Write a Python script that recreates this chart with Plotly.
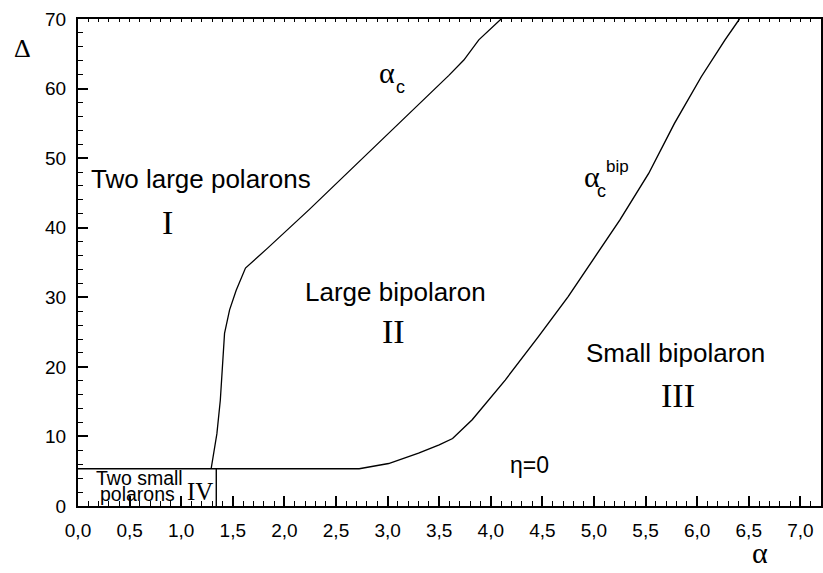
import plotly.graph_objects as go

# ---- data ----
alpha_c_x = [1.29, 1.346, 1.379, 1.398, 1.42, 1.469, 1.533, 1.623, 1.84, 2.24, 2.725, 3.10, 3.594, 3.739, 3.884, 4.10]
alpha_c_y = [5.35, 10.4, 15.2, 20.0, 24.8, 28.2, 31.0, 34.2, 37.1, 42.6, 49.5, 54.9, 61.9, 64.1, 67.0, 70.0]

bip_x = [0.0, 2.725, 3.01, 3.30, 3.50, 3.63, 3.82, 4.14, 4.46, 4.75, 5.0, 5.25, 5.53, 5.78, 6.04, 6.27, 6.41]
bip_y = [5.35, 5.35, 6.1, 7.6, 8.8, 9.7, 12.4, 18.1, 24.3, 30.1, 35.6, 41.1, 47.8, 55.0, 61.7, 67.0, 70.0]

iv_x = [1.34, 1.34]
iv_y = [0.0, 5.35]

x_tick_vals = [0.0, 0.5, 1.0, 1.5, 2.0, 2.5, 3.0, 3.5, 4.0, 4.5, 5.0, 5.5, 6.0, 6.5, 7.0]
x_tick_labels = ["0,0", "0,5", "1,0", "1,5", "2,0", "2,5", "3,0", "3,5", "4,0", "4,5",
                 "5,0", "5,5", "6,0", "6,5", "7,0"]
y_tick_vals = [0, 10, 20, 30, 40, 50, 60, 70]
y_tick_labels = ["0", "10", "20", "30", "40", "50", "60", "70"]

SANS = "Liberation Sans, Arial, sans-serif"
SERIF = "Liberation Serif, Times New Roman, serif"

fig = go.Figure()
fig.add_trace(go.Scatter(x=alpha_c_x, y=alpha_c_y, mode="lines",
                         line=dict(color="black", width=1.3), showlegend=False))
fig.add_trace(go.Scatter(x=bip_x, y=bip_y, mode="lines",
                         line=dict(color="black", width=1.4), showlegend=False))
fig.add_trace(go.Scatter(x=iv_x, y=iv_y, mode="lines",
                         line=dict(color="black", width=1.4), showlegend=False))
# invisible trace carrying the top tick axis
fig.add_trace(go.Scatter(x=[], y=[], xaxis="x2", yaxis="y", mode="lines",
                         showlegend=False, hoverinfo="skip"))

def ann(x, y, text, size, family, xref="x", yref="y"):
    fig.add_annotation(x=x, y=y, xref=xref, yref=yref, text=text, showarrow=False,
                       font=dict(size=size, family=family, color="black"),
                       xanchor="center", yanchor="middle")

ann(1.191, 47.05, "Two large polarons", 26, SANS)
ann(0.870, 40.7, "I", 34, SERIF)
ann(3.08, 30.76, "Large bipolaron", 26, SANS)
ann(3.058, 25.05, "II", 34, SERIF)
ann(5.787, 22.0, "Small bipolaron", 26, SANS)
ann(5.817, 15.9, "III", 34, SERIF)
ann(4.377, 5.85, "η=0", 23, SANS)
ann(0.595, 4.02, "Two small", 19.5, SANS)
ann(0.575, 1.75, "polarons", 19.5, SANS)
ann(1.179, 2.06, "IV", 25, SERIF)

# alpha_c label
ann(2.999, 62.25, "α", 30, SERIF)
ann(3.125, 60.26, "c", 18, SANS)
# alpha_c^bip label
ann(4.979, 47.31, "α", 30, SERIF)
ann(5.072, 45.31, "c", 18, SANS)
ann(5.232, 48.86, "bip", 17, SANS)

# axis titles
ann(-0.0745, 0.940, "Δ", 26, SERIF, xref="paper", yref="paper")
fig.add_annotation(x=0.9177, y=-0.133, xref="paper", yref="paper", text="α",
                   showarrow=False, font=dict(size=30, family=SERIF, color="black"),
                   xanchor="center", yanchor="bottom")

fig.update_layout(
    width=823, height=573,
    margin=dict(l=78, r=0, t=19, b=67),
    plot_bgcolor="white", paper_bgcolor="white",
    font=dict(family=SANS, color="black"),
    xaxis2=dict(overlaying="x", side="top", anchor="y", matches="x",
                range=[0, 7.2], tickmode="linear", tick0=0, dtick=0.1,
                ticks="inside", ticklen=3, tickwidth=1, tickcolor="black",
                showticklabels=False, showgrid=False, zeroline=False,
                showline=False),
)
fig.update_xaxes(selector=dict(anchor="y", side=None))
fig.update_layout(xaxis=dict(
    range=[0, 7.2], tickmode="array", tickvals=x_tick_vals, ticktext=x_tick_labels,
    ticks="inside", ticklen=10, tickwidth=1.5, tickcolor="black",
    minor=dict(dtick=0.1, tick0=0, ticks="inside", ticklen=5, tickwidth=1.2, tickcolor="black"),
    showline=True, linecolor="black", linewidth=2, mirror=True,
    showgrid=False, zeroline=False,
    tickfont=dict(size=19, family=SANS, color="black"), ticklabelstandoff=6,
))
fig.update_yaxes(
    range=[0, 70], tickmode="array", tickvals=y_tick_vals, ticktext=y_tick_labels,
    ticks="inside", ticklen=10, tickwidth=1.5, tickcolor="black",
    minor=dict(dtick=2, tick0=0, ticks="inside", ticklen=5, tickwidth=1.2, tickcolor="black"),
    showline=True, linecolor="black", linewidth=2, mirror=True,
    showgrid=False, zeroline=False,
    tickfont=dict(size=19, family=SANS, color="black"), ticklabelstandoff=6,
)

fig.write_html("out.html")
